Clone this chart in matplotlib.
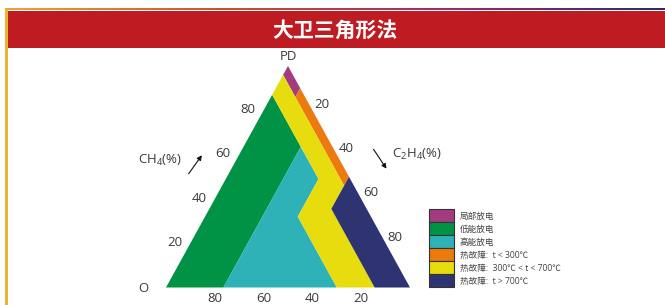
import numpy as np
import matplotlib.pyplot as plt
from matplotlib.patches import Polygon, Patch, Rectangle
from matplotlib.colors import LinearSegmentedColormap

plt.rcParams['font.family'] = ['Open Sans', 'Noto Sans CJK SC', 'DejaVu Sans']
plt.rcParams['mathtext.fontset'] = 'custom'
plt.rcParams['mathtext.rm'] = 'Open Sans'

# zone corners as (CH4, C2H4, C2H2) in percent
pd_zone = [(100, 0, 0), (96, 0, 4), (86, 10, 4), (90, 10, 0)]
d1_zone = [(87, 0, 13), (63.5, 23.5, 13), (0, 23.5, 76.5), (0, 0, 100)]
d2_zone = [(63.5, 23.5, 13), (49, 38, 13), (32, 38, 30), (0, 70, 30), (0, 23.5, 76.5)]
t1_zone = [(90, 10, 0), (86, 10, 4), (46, 50, 4), (50, 50, 0)]
t2_zone = [(96, 0, 4), (46, 50, 4), (35.5, 50, 14.5), (0, 85.5, 14.5),
           (0, 70, 30), (32, 38, 30), (49, 38, 13), (87, 0, 13)]
t3_zone = [(50, 50, 0), (35.5, 50, 14.5), (0, 85.5, 14.5), (0, 100, 0)]

zones = [pd_zone, d1_zone, d2_zone, t1_zone, t2_zone, t3_zone]
zone_labels = ["局部放电", "低能放电", "高能放电", "热故障:  t < 300℃",
               "热故障:  300℃ < t < 700℃", "热故障:  t > 700℃"]
zone_colors = ["#A23C7E", "#009245", "#2EB2B8", "#EC7A0E", "#E6DC0E", "#2E3372"]
ticks = [20, 40, 60, 80]


def tern(pts):
    """(CH4, C2H4, C2H2) percent -> x, y of the triangle"""
    p = np.asarray(pts, dtype=float) / 100
    return np.column_stack([p[:, 1] + p[:, 0] / 2, p[:, 0]])


fig = plt.figure(figsize=(6.65, 3.05), dpi=100)

# page decoration in pixel coordinates
bg = fig.add_axes([0, 0, 1, 1])
bg.set_xlim(0, 665)
bg.set_ylim(305, 0)
bg.axis('off')
grad = LinearSegmentedColormap.from_list(
    'top', ['#E9A53A', '#C8502E', '#9B2C6E', '#2B2F5E'])
bg.imshow(np.linspace(0, 1, 256)[None, :], cmap=grad, aspect='auto',
          extent=(5, 665, 10.5, 8.8), zorder=1)
bg.add_patch(Rectangle((7, 10.5), 658, 37.5, color='#BE1C22', lw=0, zorder=2))
bg.add_patch(Rectangle((5, 8.8), 2.5, 297, color='#E8B432', lw=0, zorder=3))
bg.text(335, 30, "大卫三角形法", color='white', fontsize=15, fontweight='bold',
        ha='center', va='center', family=['Noto Sans CJK SC'], zorder=4)

txt = '#3A3A3A'
bg.text(160, 160, "CH$_4$(%)", fontsize=9.5, color=txt, ha='center', va='center')
bg.text(417, 154, "C$_2$H$_4$(%)", fontsize=9.5, color=txt, ha='center', va='center')
arrow = dict(arrowstyle='-|>', color='#111111', lw=0.8, mutation_scale=7)
bg.annotate("", xy=(203.5, 153), xytext=(187, 176), arrowprops=arrow)
bg.annotate("", xy=(388, 171), xytext=(372, 147), arrowprops=arrow)

# ternary plot
ax = fig.add_axes([166 / 665, 17.5 / 305, 244 / 665, 221.5 / 305])
ax.set_xlim(0, 1)
ax.set_ylim(0, 1)
ax.axis('off')

for pts, c in zip(zones, zone_colors):
    ax.add_patch(Polygon(tern(pts), closed=True, facecolor=c, edgecolor='none'))

for v in ticks:
    ax.annotate(str(v), xy=tern([(v, 0, 100 - v)])[0], xytext=(-11.5, 0.5),
                textcoords='offset points', ha='center', va='center',
                fontsize=9.5, color=txt, annotation_clip=False)
    ax.annotate(str(v), xy=tern([(100 - v, v, 0)])[0], xytext=(6.8, 4.3),
                textcoords='offset points', ha='center', va='center',
                fontsize=9.5, color=txt, annotation_clip=False)
    ax.annotate(str(v), xy=tern([(0, 100 - v, v)])[0], xytext=(0, -7.8),
                textcoords='offset points', ha='center', va='center',
                fontsize=9.5, color=txt, annotation_clip=False)

ax.annotate("PD", xy=tern([(100, 0, 0)])[0], xytext=(0, 6.5),
            textcoords='offset points', ha='center', va='center',
            fontsize=9.5, color=txt, annotation_clip=False)
ax.annotate("O", xy=tern([(0, 0, 100)])[0], xytext=(-16.3, -0.6),
            textcoords='offset points', ha='center', va='center',
            fontsize=9.5, color=txt, annotation_clip=False)

handles = [Patch(facecolor=c, edgecolor='#333333', lw=0.8, label=l)
           for c, l in zip(zone_colors, zone_labels)]
fig.legend(handles=handles, loc='upper left',
           bbox_to_anchor=(429.3 / 665, 1 - 209.3 / 305), frameon=False,
           fontsize=6.2, borderpad=0, borderaxespad=0, labelspacing=0,
           handleheight=1.95, handlelength=2.85, handletextpad=0.7,
           labelcolor='#444444')

fig.savefig('out.png', dpi=100)
